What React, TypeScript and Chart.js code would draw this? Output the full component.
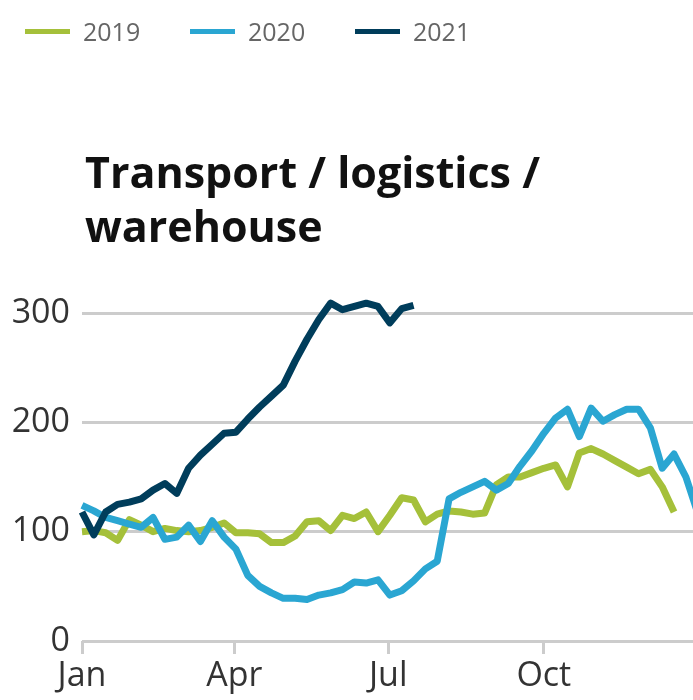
import React, { useEffect, useRef } from "react";
import { Chart, registerables } from "chart.js";

Chart.register(...registerables);

// ---- Data ----
const SERIES_LABELS = ["2019", "2020", "2021"];
const SERIES_COLORS = ["#a5c03a", "#2aa6d2", "#003d5b"];

// weekly index values (week 0 = start of January)
const VALUES_2019 = [
  100, 101, 99, 92, 111, 106, 100, 103, 101, 100, 101, 104, 108, 99, 99, 98, 90, 90, 96, 109,
  110, 101, 115, 112, 118, 100, 115, 131, 129, 109, 116, 119, 118, 116, 117, 143, 150, 150, 154, 158,
  161, 141, 172, 176, 171, 165, 159, 153, 157, 141, 118,
];
const VALUES_2020 = [
  124, 119, 113, 110, 107, 104, 113, 93, 95, 106, 91, 110, 95, 84, 60, 50, 44, 39, 39, 38,
  42, 44, 47, 54, 53, 56, 42, 46, 55, 66, 73, 130, 136, 141, 146, 138, 144, 160, 174, 190,
  204, 212, 187, 213, 201, 207, 212, 212, 195, 158, 171, 150, 117,
];
const VALUES_2021 = [
  118, 97, 118, 125, 127, 130, 138, 144, 135, 158, 170, 180, 190, 191, 203, 214, 224, 234, 256, 276,
  294, 309, 303, 306, 309, 306, 291, 304, 307,
];

const MONTH_LABELS = ["Jan", "Apr", "Jul", "Oct"];
const MONTH_TICK_WEEKS = [0, 12.86, 25.86, 39];
const Y_TICKS = [0, 100, 200, 300];
const TITLE_LINES = ["Transport / logistics /", "warehouse"];

const FONT = "'Open Sans', 'DejaVu Sans', sans-serif";

export default function App() {
  const canvasRef = useRef<HTMLCanvasElement | null>(null);

  useEffect(() => {
    if (!canvasRef.current) return;
    const series = [VALUES_2019, VALUES_2020, VALUES_2021];
    const chart = new Chart(canvasRef.current, {
      type: "line",
      data: {
        datasets: series.map((vals, i) => ({
          label: SERIES_LABELS[i],
          data: vals.map((v, w) => ({ x: w, y: v })),
          borderColor: SERIES_COLORS[i],
          backgroundColor: SERIES_COLORS[i],
          borderWidth: 7,
          pointRadius: 0,
          tension: 0,
          fill: false,
          clip: false as any,
          order: 3 - i,
          borderJoinStyle: "round" as const,
        })),
      },
      options: {
        animation: false,
        responsive: false,
        devicePixelRatio: 1,
        layout: { padding: { top: 313, left: 0, right: 0, bottom: 0 } },
        plugins: {
          legend: { display: false },
          title: { display: false },
          tooltip: { enabled: false },
        },
        scales: {
          x: {
            type: "linear",
            min: 0,
            max: 51.6,
            afterBuildTicks: (axis: any) => {
              axis.ticks = MONTH_TICK_WEEKS.map((v) => ({ value: v }));
            },
            afterFit: (s: any) => {
              s.height = 59;
            },
            grid: {
              display: true,
              drawOnChartArea: false,
              drawTicks: true,
              tickLength: 13,
              color: "#cccccc",
              lineWidth: 3,
            },
            border: { display: false },
            ticks: {
              callback: (_v: any, i: number) => MONTH_LABELS[i],
              font: { family: FONT, size: 34 },
              color: "#333333",
              padding: 2,
              autoSkip: false,
              maxRotation: 0,
            },
          },
          y: {
            min: 0,
            max: 300,
            afterBuildTicks: (axis: any) => {
              axis.ticks = Y_TICKS.map((v) => ({ value: v }));
            },
            afterFit: (s: any) => {
              s.width = 82;
            },
            grid: { color: "#cccccc", lineWidth: 3, drawTicks: false },
            border: { display: false },
            ticks: {
              font: { family: FONT, size: 34 },
              color: "#333333",
              padding: 12,
            },
          },
        },
      },
    });
    return () => chart.destroy();
  }, []);

  const legendLefts = [25, 190, 355];

  return (
    <div style={{ position: "relative", width: 693, height: 700, overflow: "hidden", fontFamily: FONT }}>
      <style>{`html,body{margin:0;padding:0;overflow:hidden;}`}</style>
      <canvas ref={canvasRef} width={693} height={700} style={{ position: "absolute", left: 0, top: 0, display: "block" }} />
      {SERIES_LABELS.map((lab, i) => (
        <div
          key={lab}
          style={{
            position: "absolute",
            left: legendLefts[i],
            top: 18.5,
            height: 25,
            display: "flex",
            alignItems: "center",
            whiteSpace: "nowrap",
          }}
        >
          <span style={{ display: "inline-block", width: 45, height: 5, background: SERIES_COLORS[i], marginRight: 13 }} />
          <span style={{ fontSize: 25, lineHeight: "25px", color: "#666666" }}>{lab}</span>
        </div>
      ))}
      <div
        style={{
          position: "absolute",
          left: 85,
          top: 145,
          fontSize: 43,
          fontWeight: 700,
          lineHeight: "54px",
          color: "#111111",
          whiteSpace: "nowrap",
        }}
      >
        {TITLE_LINES.map((t) => (
          <div key={t}>{t}</div>
        ))}
      </div>
    </div>
  );
}
